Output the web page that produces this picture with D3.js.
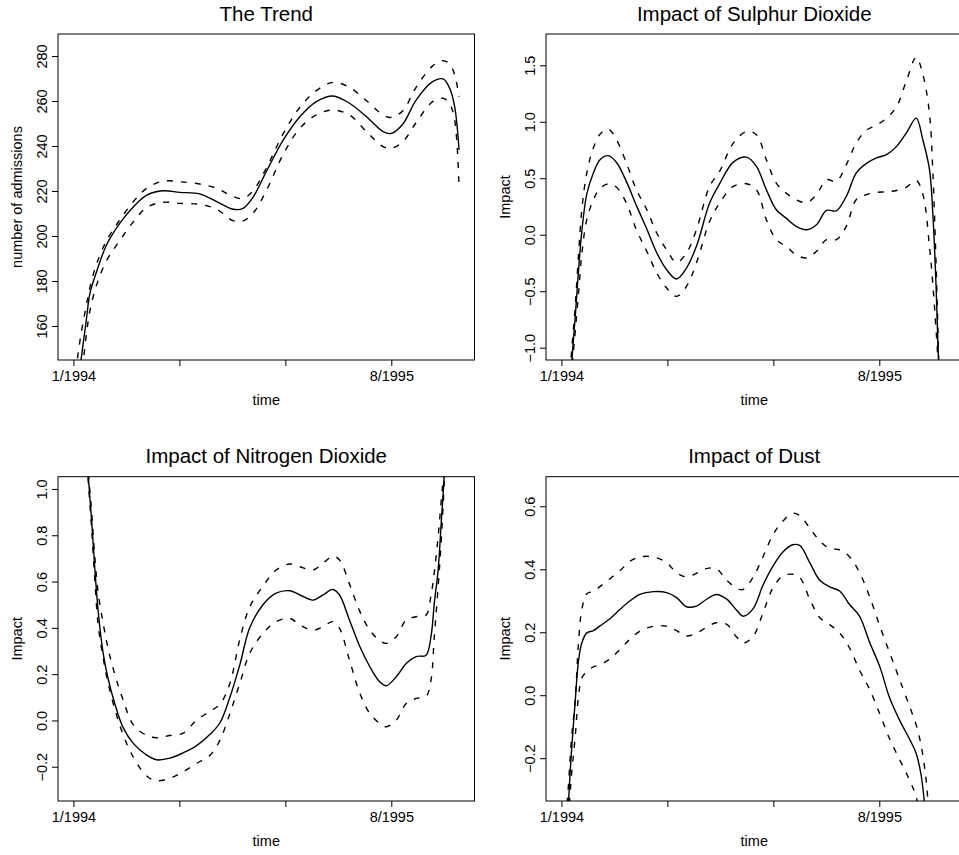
<!DOCTYPE html>
<html>
<head>
<meta charset="utf-8">
<script src="https://cdn.jsdelivr.net/npm/d3@7"></script>
<style>
  body { margin: 0; background: #ffffff; }
  svg { display: block; }
</style>
</head>
<body>
<svg id="chart" width="959" height="855"></svg>
<script>
// ---------- shared axis data ----------
const xTickDays = [0, 192.33, 384.67, 577];
const xTickLabels = ["1/1994", "", "", "8/1995"];
const xLimits = [-28, 728];

const panelTitles = ["The Trend", "Impact of Sulphur Dioxide", "Impact of Nitrogen Dioxide", "Impact of Dust"];
const yAxisTitles = ["number of admissions", "Impact", "Impact", "Impact"];
const xAxisTitle = "time";

const yTicks1 = [160, 180, 200, 220, 240, 260, 280];
const yTicks2 = [-1.0, -0.5, 0.0, 0.5, 1.0, 1.5];
const yTicks3 = [-0.2, 0.0, 0.2, 0.4, 0.6, 0.8, 1.0];
const yTicks4 = [-0.2, 0.0, 0.2, 0.4, 0.6];

const yLimits1 = [144.89, 289.78];
const yLimits2 = [-1.109, 1.777];
const yLimits3 = [-0.348, 1.053];
const yLimits4 = [-0.336, 0.694];

// ---------- panel 1: trend ----------
const days1 = [0,7,15,23,30,42,60,84,109,133,163,193,229,260,290,308,326,350,381,411,441,471,501,532,562,577,598,622,652,671,683,692,700];
const fit1 = [115,131.6,147.2,161.9,174.5,184.1,196,205.6,213,218.2,220.1,219.4,218.7,215.3,211.9,212.3,217.2,228.6,242.7,253,259.7,262.2,259,253,246.4,245.6,249.8,260.4,268.6,269.8,265.6,257.5,238.2];
const upper1 = [127,144.9,158.2,168.6,177.2,187.6,197.9,207.1,215.3,221.2,224.4,224.1,223.1,221.2,217.5,216.7,220.1,230.1,245.6,257.2,264.6,268.3,266.1,260.1,253.8,252.7,255.7,266.1,275.6,277.9,276.4,271.6,261.9];
const lower1 = [97.5,118.2,137.5,155.3,166.8,178.2,189,197.9,206.4,212.7,215,214.5,214.1,211.9,206.8,206.7,210.1,220.1,236.4,247.9,253.8,256,253.8,246.4,239.7,239,241.9,250.4,259.7,261.2,258.7,251.6,221.2];

// ---------- panel 2: sulphur dioxide ----------
const days2 = [0,10,19,25,31,37,46,58,70,85,100,118,136,155,173,191,209,227,245,269,287,312,336,354,372,390,408,426,445,463,481,499,517,535,553,572,590,608,626,644,656,668,674,680,686,695];
const fit2 = [-2.6,-1.8,-1.106,-0.73,-0.32,0.03,0.36,0.546,0.664,0.70,0.64,0.47,0.26,0.05,-0.16,-0.31,-0.392,-0.295,-0.103,0.28,0.45,0.643,0.687,0.605,0.398,0.221,0.147,0.074,0.044,0.088,0.215,0.212,0.339,0.546,0.63,0.68,0.71,0.78,0.90,1.032,0.84,0.58,0.2,-0.45,-1.35,-2.8];
const upper2 = [-2.2,-1.6,-1.0,-0.634,-0.18,0.22,0.546,0.77,0.89,0.935,0.84,0.634,0.40,0.221,0.015,-0.133,-0.245,-0.162,0.044,0.428,0.56,0.811,0.914,0.885,0.664,0.457,0.369,0.31,0.286,0.354,0.487,0.472,0.619,0.811,0.923,0.97,1.032,1.13,1.36,1.57,1.42,1.077,0.575,-0.25,-1.3,-2.6];
const lower2 = [-3.0,-2.0,-1.2,-0.86,-0.52,-0.17,0.133,0.31,0.41,0.45,0.42,0.28,0.044,-0.147,-0.339,-0.472,-0.546,-0.457,-0.251,0.118,0.28,0.428,0.451,0.398,0.133,-0.044,-0.103,-0.177,-0.206,-0.147,-0.044,-0.044,0.074,0.31,0.354,0.375,0.38,0.392,0.42,0.48,0.36,-0.1,-0.43,-0.84,-1.35,-2.8];

// ---------- panel 3: nitrogen dioxide ----------
const days3 = [0,18,27,33,39,45,54,63,75,90,109,133,151,175,199,223,248,266,284,302,320,344,368,393,411,435,453,471,483,501,520,538,556,568,586,604,622,640,649,655,662,668,674,683,700];
const fit3 = [2.6,1.4,1.053,0.866,0.65,0.47,0.29,0.18,0.073,-0.03,-0.10,-0.15,-0.17,-0.163,-0.14,-0.11,-0.06,-0.01,0.10,0.24,0.40,0.5,0.55,0.56,0.542,0.52,0.542,0.566,0.542,0.434,0.318,0.232,0.167,0.15,0.189,0.246,0.276,0.282,0.362,0.506,0.65,0.87,1.09,1.5,2.6];
const upper3 = [2.7,1.45,1.08,0.9,0.7,0.55,0.42,0.31,0.2,0.09,-0.02,-0.065,-0.075,-0.065,-0.055,0.0,0.04,0.07,0.16,0.35,0.49,0.58,0.65,0.676,0.664,0.65,0.679,0.71,0.693,0.59,0.47,0.39,0.345,0.333,0.362,0.434,0.448,0.455,0.54,0.64,0.794,0.96,1.12,1.55,2.7];
const lower3 = [2.5,1.35,1.03,0.83,0.6,0.41,0.27,0.16,0.05,-0.06,-0.16,-0.24,-0.26,-0.25,-0.222,-0.186,-0.15,-0.085,0.03,0.16,0.29,0.376,0.427,0.441,0.412,0.39,0.405,0.427,0.398,0.261,0.117,0.03,-0.013,-0.027,0.001,0.073,0.095,0.104,0.174,0.36,0.578,0.79,1.07,1.45,2.5];

// ---------- panel 4: dust ----------
const days4 = [0,6,13,18,25,31,37,46,58,70,88,106,124,142,167,191,209,227,245,263,281,300,318,330,348,366,384,402,420,433,451,469,487,505,523,541,559,578,596,614,632,644,653,662,674,698];
const fit4 = [-0.9,-0.6,-0.334,-0.185,-0.02,0.11,0.166,0.198,0.205,0.22,0.243,0.272,0.299,0.32,0.329,0.326,0.31,0.281,0.283,0.304,0.32,0.305,0.27,0.251,0.275,0.35,0.41,0.455,0.478,0.475,0.42,0.365,0.344,0.331,0.288,0.251,0.17,0.09,-0.01,-0.08,-0.14,-0.185,-0.255,-0.39,-0.55,-0.9];
const upper4 = [-0.7,-0.45,-0.28,-0.145,-0.015,0.166,0.272,0.322,0.33,0.345,0.37,0.395,0.425,0.439,0.439,0.421,0.389,0.376,0.387,0.402,0.402,0.365,0.34,0.336,0.375,0.44,0.51,0.553,0.578,0.57,0.53,0.49,0.466,0.462,0.44,0.39,0.315,0.219,0.134,0.049,-0.036,-0.095,-0.16,-0.27,-0.55,-0.9];
const lower4 = [-1.1,-0.8,-0.40,-0.26,-0.132,-0.004,0.055,0.075,0.09,0.097,0.115,0.145,0.177,0.203,0.219,0.219,0.205,0.188,0.197,0.215,0.23,0.225,0.185,0.166,0.187,0.262,0.341,0.379,0.384,0.373,0.304,0.246,0.224,0.198,0.15,0.08,0.02,-0.06,-0.14,-0.205,-0.27,-0.323,-0.42,-0.55,-0.7,-0.95];

// ---------- layout (plot boxes in pixels) ----------
const boxes = [
  { x0: 58,  y0: 34,    x1: 474.5, y1: 360 },
  { x0: 546, y0: 34,    x1: 962.5, y1: 360 },
  { x0: 58,  y0: 476.7, x1: 474.5, y1: 801 },
  { x0: 546, y0: 476.7, x1: 962.5, y1: 801 }
];

const panels = [
  { days: days1, fit: fit1, upper: upper1, lower: lower1, yTicks: yTicks1, yLim: yLimits1, fmt: d3.format("d") },
  { days: days2, fit: fit2, upper: upper2, lower: lower2, yTicks: yTicks2, yLim: yLimits2, fmt: d3.format(".1f") },
  { days: days3, fit: fit3, upper: upper3, lower: lower3, yTicks: yTicks3, yLim: yLimits3, fmt: d3.format(".1f") },
  { days: days4, fit: fit4, upper: upper4, lower: lower4, yTicks: yTicks4, yLim: yLimits4, fmt: d3.format(".1f") }
];

const FONT = "'Liberation Sans', Arial, Helvetica, sans-serif";
const svg = d3.select("#chart");
svg.append("rect").attr("width", 959).attr("height", 855).attr("fill", "#fff");

panels.forEach((p, i) => {
  const b = boxes[i];
  const x = d3.scaleLinear().domain(xLimits).range([b.x0, b.x1]);
  const y = d3.scaleLinear().domain(p.yLim).range([b.y1, b.y0]);
  const g = svg.append("g");

  const clipId = "clip" + i;
  svg.append("defs").append("clipPath").attr("id", clipId)
    .append("rect").attr("x", b.x0).attr("y", b.y0)
    .attr("width", b.x1 - b.x0).attr("height", b.y1 - b.y0);

  const line = d3.line()
    .x((d, k) => x(p.days[k]))
    .y(d => y(d))
    .curve(d3.curveCatmullRom.alpha(0.5));

  const lg = g.append("g").attr("clip-path", `url(#${clipId})`);
  [p.upper, p.lower].forEach(arr => {
    lg.append("path").attr("d", line(arr))
      .attr("fill", "none").attr("stroke", "#000")
      .attr("stroke-width", 1.4).attr("stroke-dasharray", "6,8");
  });
  lg.append("path").attr("d", line(p.fit))
    .attr("fill", "none").attr("stroke", "#000").attr("stroke-width", 1.4);

  // box
  g.append("rect").attr("x", b.x0).attr("y", b.y0)
    .attr("width", b.x1 - b.x0).attr("height", b.y1 - b.y0)
    .attr("fill", "none").attr("stroke", "#000").attr("stroke-width", 1);

  // x axis
  const xa = g.append("g").attr("transform", `translate(0,${b.y1})`)
    .call(d3.axisBottom(x).tickValues(xTickDays)
      .tickFormat((d, k) => xTickLabels[k]).tickSize(6).tickSizeOuter(0));
  xa.select(".domain").remove();
  xa.selectAll(".tick line").attr("stroke", "#000");
  xa.selectAll("text").attr("y", 21).attr("dy", null)
    .attr("font-size", 14.5).attr("font-family", FONT).attr("fill", "#000");

  // y axis
  const ya = g.append("g").attr("transform", `translate(${b.x0},0)`)
    .call(d3.axisLeft(y).tickValues(p.yTicks)
      .tickFormat(d => p.fmt(d).replace("-", "\u2212")).tickSize(6).tickSizeOuter(0));
  ya.select(".domain").remove();
  ya.selectAll(".tick line").attr("stroke", "#000");
  ya.selectAll("text").attr("x", null).attr("dy", null)
    .attr("text-anchor", "middle")
    .attr("transform", "translate(-11.3,0) rotate(-90)")
    .attr("font-size", 14.5).attr("font-family", FONT).attr("fill", "#000");

  // titles
  const cx = (b.x0 + b.x1) / 2;
  g.append("text").attr("x", cx).attr("y", b.y0 - 13.3)
    .attr("text-anchor", "middle").attr("font-size", 20.5)
    .attr("font-family", FONT).attr("fill", "#000").text(panelTitles[i]);
  g.append("text").attr("x", cx).attr("y", b.y1 + 44.5)
    .attr("text-anchor", "middle").attr("font-size", 14.5)
    .attr("font-family", FONT).attr("fill", "#000").text(xAxisTitle);
  g.append("text")
    .attr("transform", `translate(${b.x0 - 36},${(b.y0 + b.y1) / 2}) rotate(-90)`)
    .attr("text-anchor", "middle").attr("font-size", 14.5)
    .attr("font-family", FONT).attr("fill", "#000").text(yAxisTitles[i]);
});
</script>
</body>
</html>
